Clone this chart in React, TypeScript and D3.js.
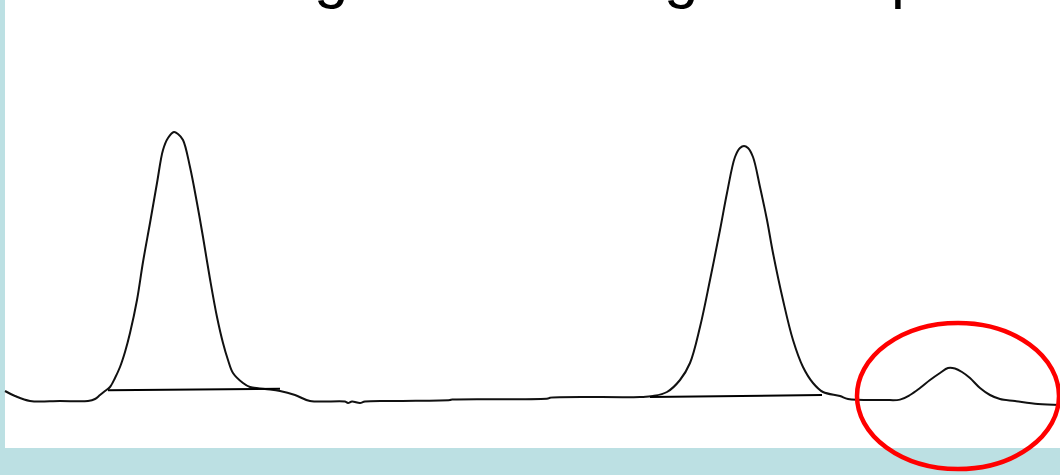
import React, { useEffect, useRef } from 'react';
import * as d3 from 'd3';

// retention time (min) and detector signal (mAU)
const times = [
  0, 0.2, 0.5, 1.1, 1.66, 1.8, 1.9, 2.0, 2.1, 2.2, 2.3, 2.4, 2.5, 2.64, 2.76, 2.9,
  3.04, 3.16, 3.26, 3.38, 3.46, 3.56, 3.7, 3.84, 3.96, 4.1, 4.24, 4.36, 4.46, 4.56,
  4.76, 4.9, 5.2, 5.5, 5.8, 6.1, 6.8, 6.86, 6.94, 7.1, 7.2, 7.9, 8.9, 8.94, 10.86,
  10.9, 12.7, 12.96, 13.24, 13.5, 13.7, 13.9, 14.1, 14.3, 14.44, 14.6, 14.7, 14.78,
  14.86, 14.96, 15.1, 15.24, 15.36, 15.56, 15.76, 15.96, 16.16, 16.36, 16.7, 16.86,
  17.6, 17.9, 18.1, 18.3, 18.5, 18.7, 18.86, 19.0, 19.14, 19.3, 19.5, 19.7, 19.9,
  20.2, 20.66, 21.1,
];
const signal = [
  14, 9, 4, 4, 4, 6, 10, 14, 18, 27, 38, 53, 72, 105, 143, 182,
  222, 255, 267, 273, 271, 265, 238, 202, 168, 126, 88, 62, 45, 32,
  22, 18, 16, 14, 10, 4, 3.5, 2, 3.5, 2, 3.5, 4, 5, 5.5, 6.5,
  7.3, 8, 9, 13, 25, 42, 78, 125, 175, 212, 248, 257, 259,
  257, 248, 218, 185, 152, 105, 65, 38, 22, 13, 9, 6,
  5, 5.4, 10, 17, 25, 32, 37, 36.5, 33, 27, 17, 10, 6,
  4, 1, 0,
];

// drawn integration baselines: [start, end] for each peak
const baselineTimes = [[2.06, 5.5], [12.9, 16.34]];
const baselineSignal = [[14.7, 16.3], [8, 10]];

// only the descenders of the cropped slide title are left in view
const titleGlyphs = ['g', 'g', 'p'];
const titleGlyphX = [314, 664, 891];

// the ringed small peak
const ringTime = 19.06;
const ringSignal = 9;

const W = 1060;
const H = 475;

const App = () => {
  const svgRef = useRef<SVGSVGElement>(null);

  useEffect(() => {
    const svg = d3.select(svgRef.current);
    svg.selectAll('*').remove();

    const left = 5;
    const bottom = 448;

    // background frame
    svg.append('rect').attr('width', W).attr('height', H).attr('fill', '#bce0e3');
    svg.append('rect')
      .attr('x', left).attr('y', 0)
      .attr('width', W - left).attr('height', bottom)
      .attr('fill', '#ffffff');

    const x = d3.scaleLinear().domain([0, 21.1]).range([left, W]);
    const y = d3.scaleLinear().domain([0, 280]).range([405, 125]);

    // title remnants
    svg.selectAll('.title')
      .data(titleGlyphs)
      .enter().append('text')
      .attr('class', 'title')
      .attr('x', (_d, i) => titleGlyphX[i])
      .attr('y', -4)
      .attr('font-family', 'Liberation Sans, Arial, sans-serif')
      .attr('font-size', 62)
      .attr('fill', '#000')
      .text(d => d);

    const pts = times.map((t, i) => [t, signal[i]] as [number, number]);

    const line = d3.line<[number, number]>()
      .x(d => x(d[0]))
      .y(d => y(d[1]))
      .curve(d3.curveCatmullRom.alpha(0.5));

    svg.append('path')
      .datum(pts)
      .attr('d', line)
      .attr('fill', 'none')
      .attr('stroke', '#111')
      .attr('stroke-width', 2);

    // integration baselines
    baselineTimes.forEach((bt, i) => {
      svg.append('line')
        .attr('x1', x(bt[0])).attr('y1', y(baselineSignal[i][0]))
        .attr('x2', x(bt[1])).attr('y2', y(baselineSignal[i][1]))
        .attr('stroke', '#000')
        .attr('stroke-width', 2);
    });

    // red ring round the small peak
    svg.append('ellipse')
      .attr('cx', x(ringTime))
      .attr('cy', y(ringSignal))
      .attr('rx', 101)
      .attr('ry', 73)
      .attr('fill', 'none')
      .attr('stroke', '#ff0000')
      .attr('stroke-width', 4.5);
  }, []);

  return (
    <svg
      ref={svgRef}
      width={W}
      height={H}
      style={{ position: 'absolute', left: 0, top: 0 }}
    />
  );
};

export default App;
